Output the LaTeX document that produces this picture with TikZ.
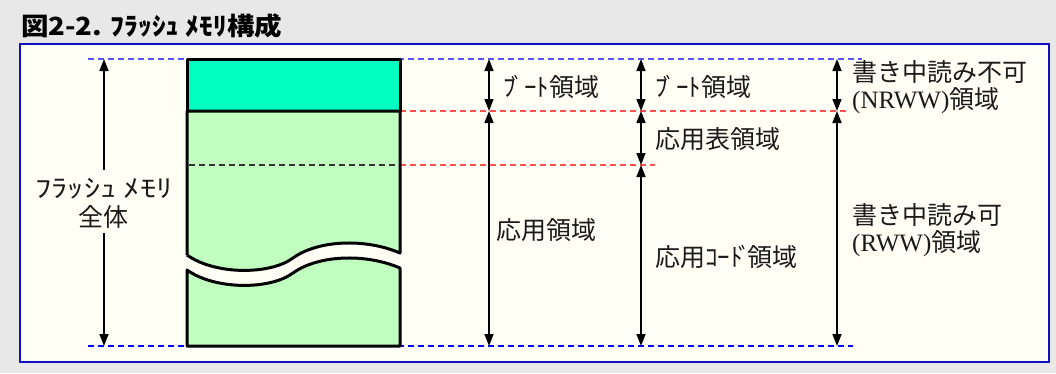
\documentclass[tikz,border=0pt]{standalone}
\usepackage{fontspec}
\setmainfont{Liberation Serif}
\newfontfamily\jp{Noto Sans CJK JP}
\newfontfamily\jpw{Noto Sans CJK JP}[FakeStretch=1.3]
\newfontfamily\jpt{Noto Sans CJK JP}[FakeStretch=1.1]
\usetikzlibrary{arrows.meta}
\definecolor{bgc}{HTML}{E8E8E8}
\definecolor{panel}{HTML}{FFFFF6}
\definecolor{frame}{HTML}{1010C0}
\definecolor{bootc}{HTML}{00FFC0}
\definecolor{appc}{HTML}{C0FFC0}
\definecolor{bluetop}{HTML}{5555FF}
\definecolor{bluebot}{HTML}{0000FF}
\definecolor{redd}{HTML}{FF5050}
\definecolor{txt}{HTML}{1A1A1A}
\tikzset{
  lbl/.style={anchor=west, inner sep=0pt, align=left, text=txt,
    font=\jp\fontsize{25bp}{27bp}\selectfont},
  dline/.style={line width=1.2bp, dash pattern=on 6bp off 4bp},
  tip/.style={line width=1.6bp, -{Triangle[length=12bp,width=9bp]}},
  dtip/.style={line width=1.6bp, {Triangle[length=12bp,width=9bp]}-{Triangle[length=12bp,width=9bp]}},
  memedge/.style={draw=black, line width=3bp, line join=round}
}
\begin{document}
\begin{tikzpicture}[x=1bp,y=-1bp]
\useasboundingbox (0,0) rectangle (1056,373);
\fill[bgc] (0,0) rectangle (1056,373);
\node[anchor=base west, inner sep=0pt, text=black, font=\jpt\bfseries\fontsize{25bp}{27bp}\selectfont] (title) at (21,35) {図2-2. ﾌﾗｯｼｭ ﾒﾓﾘ構成};
\draw[frame, fill=panel, line width=2.2bp] (20,44) rectangle (1049,362);

% guide lines
\draw[dline, bluetop] (88,59) -- (862,59);
\draw[dline, bluebot] (88,346) -- (853,346);
\draw[dline, redd] (400,111) -- (847,111);
\draw[dline, redd] (400,165) -- (655,165);

% memory block
\draw[memedge, fill=bootc] (187,59) rectangle (400,111);
\draw[memedge, fill=appc] (187,255) -- (187,111) -- (400,111) -- (400,253)
  .. controls (365,238) and (318,240) .. (293,258)
  .. controls (270,275) and (215,275) .. (187,255);
\draw[memedge, fill=appc] (187,270)
  .. controls (215,290) and (270,290) .. (293,273)
  .. controls (318,255) and (365,253) .. (400,268) -- (400,346) -- (187,346) -- cycle;
\draw[dline, draw=black!80] (189,165) -- (398,165);

% coordinates
\coordinate (t0) at (104,59);  \coordinate (b0) at (104,346);
\coordinate (t1) at (489,59);  \coordinate (m1) at (489,111); \coordinate (b1) at (489,346);
\coordinate (t2) at (641,59);  \coordinate (m2) at (641,111); \coordinate (n2) at (641,165); \coordinate (b2) at (641,346);
\coordinate (t3) at (837,59);  \coordinate (m3) at (837,111); \coordinate (b3) at (837,346);

% left whole label
\node[lbl, anchor=center, align=center, font=\jp\fontsize{25bp}{29bp}\selectfont, inner sep=0pt] (whole) at (104,203) {{\jpw ﾌﾗｯｼｭ ﾒﾓﾘ}\\全体};
\draw[tip] ([yshift=8bp]whole.north) -- (t0);
\draw[tip] ([yshift=-5bp]whole.south) -- (b0);

% column 1
\draw[dtip] (t1) -- (m1);
\draw[dtip] (m1) -- (b1);
\node[lbl] (boot1) at (503,87) {ﾌ\kern-4bpﾞｰﾄ領域};
\node[lbl] (app1) at (496,230) {応用領域};

% column 2
\draw[dtip] (t2) -- (m2);
\draw[dtip] (m2) -- (n2);
\draw[dtip] (n2) -- (b2);
\node[lbl] (boot2) at (655,87) {ﾌ\kern-4bpﾞｰﾄ領域};
\node[lbl] (tbl2) at (655,139) {応用表領域};
\node[lbl] (code2) at (655,257) {応用ｺｰﾄ\kern-4bpﾞ\kern-4bp領域};

% column 3
\draw[dtip] (t3) -- (m3);
\draw[dtip] (m3) -- (b3);
\node[lbl] (nrww) at (852,87) {書き中読み不可\\{\rmfamily (NRWW)}領域};
\node[lbl] (rww) at (852,230) {書き中読み可\\{\rmfamily (RWW)}領域};
\end{tikzpicture}
\end{document}
